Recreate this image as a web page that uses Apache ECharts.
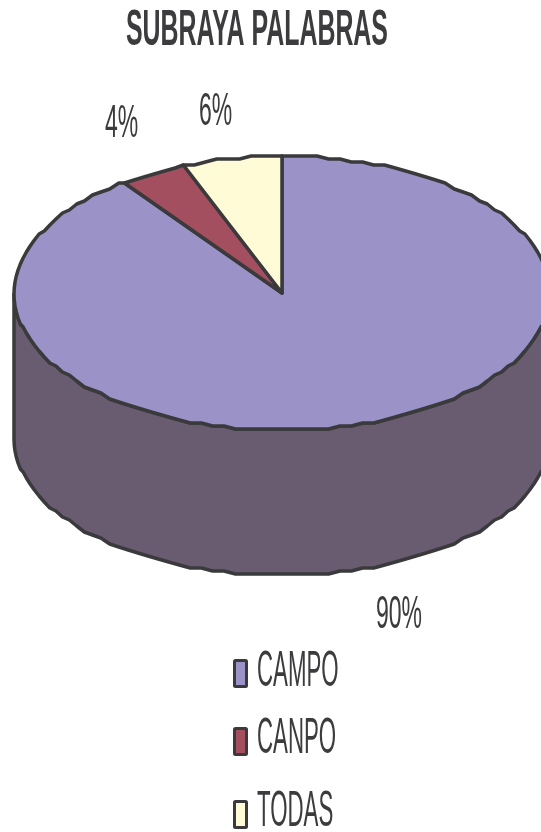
<!DOCTYPE html>
<html>
<head>
<meta charset="utf-8">
<title>SUBRAYA PALABRAS</title>
<style>
  html, body { margin: 0; padding: 0; background: #fff; }
  #main { width: 541px; height: 832px; }
</style>
<script src="https://cdn.jsdelivr.net/npm/echarts@6/dist/echarts.min.js"></script>
</head>
<body>
<div id="main"></div>
<script>
var titleText = 'SUBRAYA PALABRAS';
var categories = ['CAMPO', 'CANPO', 'TODAS'];
var values = [90, 4, 6];
var percentLabels = ['90%', '4%', '6%'];

var colors = ['#9b93c7', '#a34f5f', '#fffbd6'];
var wallColors = ['#695c70', '#5a2f38', '#8f8c78'];
var lineColor = '#3a3a3d';
var textColor = '#3c3c3f';
var fontName = '"Liberation Sans", Arial, sans-serif';

// el pie en perspectiva: centro, radios y altura de la pared
var cx = 282, cy = 293, rx = 268, ry = 137, depth = 145;
var total = values.reduce(function (a, b) { return a + b; }, 0);

// el borde del original tiene escalones, por eso se redondea la y
function edgePoint(deg, dy) {
  var r = deg * Math.PI / 180;
  var y = cy - ry * Math.cos(r);
  return [cx + rx * Math.sin(r), Math.round(y / 3) * 3 + dy];
}

function arcPoints(from, to, dy) {
  var pts = [];
  var step = 2.5;
  for (var d = from; d < to; d += step) {
    pts.push(edgePoint(d, dy));
  }
  pts.push(edgePoint(to, dy));
  return pts;
}

function renderSlice(params, api) {
  var i = params.dataIndex;
  var before = 0;
  for (var k = 0; k < i; k++) before += values[k];
  var start = before / total * 360;
  var end = (before + api.value(0)) / total * 360;
  var children = [];

  var wallFrom = Math.max(start, 90);
  var wallTo = Math.min(end, 270);
  if (wallFrom < wallTo) {
    var wall = arcPoints(wallFrom, wallTo, 0).concat(arcPoints(wallFrom, wallTo, depth).reverse());
    children.push({
      type: 'polygon',
      shape: { points: wall },
      style: { fill: wallColors[i], stroke: lineColor, lineWidth: 3.5, lineJoin: 'round' }
    });
  }

  children.push({
    type: 'polygon',
    shape: { points: [[cx, cy]].concat(arcPoints(start, end, 0)) },
    style: { fill: colors[i], stroke: lineColor, lineWidth: 3.5, lineJoin: 'round' }
  });
  return { type: 'group', children: children };
}

function stretchedText(str, x, y, size, scaleX, bold) {
  return {
    type: 'text',
    x: x,
    y: y,
    scaleX: scaleX,
    z: 10,
    style: {
      text: str,
      fill: textColor,
      font: (bold ? 'bold ' : '') + size + 'px ' + fontName,
      textAlign: 'left',
      textVerticalAlign: 'middle'
    }
  };
}

var labelPos = [[376, 615], [105, 124], [199, 112]];
var legendY = [673.5, 741.5, 814.5];
var legendTextY = [672, 739, 812];

var graphics = [stretchedText(titleText, 126, 31, 50, 0.498, true)];
percentLabels.forEach(function (t, i) {
  graphics.push(stretchedText(t, labelPos[i][0], labelPos[i][1], 46, 0.5, false));
});
categories.forEach(function (c, i) {
  graphics.push({
    type: 'rect',
    z: 10,
    shape: { x: 234.5, y: legendY[i] - 13, width: 12, height: 26, r: 1 },
    style: { fill: colors[i], stroke: lineColor, lineWidth: 3 }
  });
  graphics.push(stretchedText(c, 257, legendTextY[i], 50, 0.445, false));
});

var myChart = echarts.init(document.getElementById('main'), null, { renderer: 'canvas' });
var option = {
  animation: false,
  backgroundColor: '#ffffff',
  graphic: graphics,
  series: [
    {
      type: 'custom',
      coordinateSystem: 'none',
      renderItem: renderSlice,
      clip: false,
      data: categories.map(function (c, i) {
        return { name: c, value: [values[i]] };
      })
    }
  ]
};
myChart.setOption(option);
</script>
</body>
</html>
